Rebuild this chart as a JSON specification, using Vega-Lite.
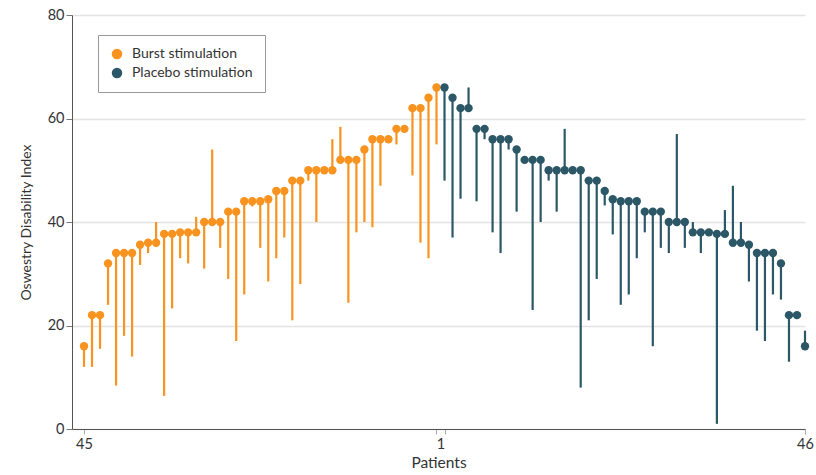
{
  "$schema": "https://vega.github.io/schema/vega-lite/v6.json",
  "width": 733,
  "height": 414,
  "autosize": {"type": "none"},
  "padding": {"left": 72, "top": 15, "right": 11, "bottom": 46},
  "background": "white",
  "config": {
    "font": "Lato",
    "view": {"stroke": null},
    "axis": {"labelFont": "Lato", "titleFont": "Lato", "labelFontSize": 14.5, "titleFontSize": 14.5, "labelColor": "#333", "titleColor": "#333", "titleFontWeight": "normal", "domainColor": "#555", "tickColor": "#777"}
  },
  "data": {"values": [
    {"idx":0,"group":"Burst stimulation","value":16,"end":12},
    {"idx":1,"group":"Burst stimulation","value":22,"end":12},
    {"idx":2,"group":"Burst stimulation","value":22,"end":15.5},
    {"idx":3,"group":"Burst stimulation","value":32,"end":24},
    {"idx":4,"group":"Burst stimulation","value":34,"end":8.4},
    {"idx":5,"group":"Burst stimulation","value":34,"end":18},
    {"idx":6,"group":"Burst stimulation","value":34,"end":14},
    {"idx":7,"group":"Burst stimulation","value":35.6,"end":31.7},
    {"idx":8,"group":"Burst stimulation","value":36,"end":34},
    {"idx":9,"group":"Burst stimulation","value":36,"end":40},
    {"idx":10,"group":"Burst stimulation","value":37.7,"end":6.4},
    {"idx":11,"group":"Burst stimulation","value":37.7,"end":23.3},
    {"idx":12,"group":"Burst stimulation","value":38,"end":33},
    {"idx":13,"group":"Burst stimulation","value":38,"end":32},
    {"idx":14,"group":"Burst stimulation","value":38,"end":41},
    {"idx":15,"group":"Burst stimulation","value":40,"end":31},
    {"idx":16,"group":"Burst stimulation","value":40,"end":54},
    {"idx":17,"group":"Burst stimulation","value":40,"end":35},
    {"idx":18,"group":"Burst stimulation","value":42,"end":29},
    {"idx":19,"group":"Burst stimulation","value":42,"end":17},
    {"idx":20,"group":"Burst stimulation","value":44,"end":26},
    {"idx":21,"group":"Burst stimulation","value":44,"end":43},
    {"idx":22,"group":"Burst stimulation","value":44,"end":35},
    {"idx":23,"group":"Burst stimulation","value":44.4,"end":28.5},
    {"idx":24,"group":"Burst stimulation","value":46,"end":33},
    {"idx":25,"group":"Burst stimulation","value":46,"end":37},
    {"idx":26,"group":"Burst stimulation","value":48,"end":21},
    {"idx":27,"group":"Burst stimulation","value":48,"end":28},
    {"idx":28,"group":"Burst stimulation","value":50,"end":48},
    {"idx":29,"group":"Burst stimulation","value":50,"end":40},
    {"idx":30,"group":"Burst stimulation","value":50,"end":50},
    {"idx":31,"group":"Burst stimulation","value":50,"end":56},
    {"idx":32,"group":"Burst stimulation","value":52,"end":58.4},
    {"idx":33,"group":"Burst stimulation","value":52,"end":24.4},
    {"idx":34,"group":"Burst stimulation","value":52,"end":38},
    {"idx":35,"group":"Burst stimulation","value":54,"end":40},
    {"idx":36,"group":"Burst stimulation","value":56,"end":39},
    {"idx":37,"group":"Burst stimulation","value":56,"end":47},
    {"idx":38,"group":"Burst stimulation","value":56,"end":56},
    {"idx":39,"group":"Burst stimulation","value":58,"end":55},
    {"idx":40,"group":"Burst stimulation","value":58,"end":58},
    {"idx":41,"group":"Burst stimulation","value":62,"end":49},
    {"idx":42,"group":"Burst stimulation","value":62,"end":36},
    {"idx":43,"group":"Burst stimulation","value":64,"end":33},
    {"idx":44,"group":"Burst stimulation","value":66,"end":55},
    {"idx":45,"group":"Placebo stimulation","value":66,"end":48},
    {"idx":46,"group":"Placebo stimulation","value":64,"end":37},
    {"idx":47,"group":"Placebo stimulation","value":62,"end":44.5},
    {"idx":48,"group":"Placebo stimulation","value":62,"end":66},
    {"idx":49,"group":"Placebo stimulation","value":58,"end":44},
    {"idx":50,"group":"Placebo stimulation","value":58,"end":56},
    {"idx":51,"group":"Placebo stimulation","value":56,"end":38},
    {"idx":52,"group":"Placebo stimulation","value":56,"end":34},
    {"idx":53,"group":"Placebo stimulation","value":56,"end":54},
    {"idx":54,"group":"Placebo stimulation","value":54,"end":42},
    {"idx":55,"group":"Placebo stimulation","value":52,"end":52},
    {"idx":56,"group":"Placebo stimulation","value":52,"end":23},
    {"idx":57,"group":"Placebo stimulation","value":52,"end":40},
    {"idx":58,"group":"Placebo stimulation","value":50,"end":48},
    {"idx":59,"group":"Placebo stimulation","value":50,"end":42},
    {"idx":60,"group":"Placebo stimulation","value":50,"end":58},
    {"idx":61,"group":"Placebo stimulation","value":50,"end":50},
    {"idx":62,"group":"Placebo stimulation","value":50,"end":8},
    {"idx":63,"group":"Placebo stimulation","value":48,"end":21},
    {"idx":64,"group":"Placebo stimulation","value":48,"end":29},
    {"idx":65,"group":"Placebo stimulation","value":46,"end":43.2},
    {"idx":66,"group":"Placebo stimulation","value":44.4,"end":37.6},
    {"idx":67,"group":"Placebo stimulation","value":44,"end":24},
    {"idx":68,"group":"Placebo stimulation","value":44,"end":26},
    {"idx":69,"group":"Placebo stimulation","value":44,"end":33},
    {"idx":70,"group":"Placebo stimulation","value":42,"end":38},
    {"idx":71,"group":"Placebo stimulation","value":42,"end":16},
    {"idx":72,"group":"Placebo stimulation","value":42,"end":35},
    {"idx":73,"group":"Placebo stimulation","value":40,"end":34},
    {"idx":74,"group":"Placebo stimulation","value":40,"end":57},
    {"idx":75,"group":"Placebo stimulation","value":40,"end":35},
    {"idx":76,"group":"Placebo stimulation","value":38,"end":40},
    {"idx":77,"group":"Placebo stimulation","value":38,"end":34},
    {"idx":78,"group":"Placebo stimulation","value":38,"end":38},
    {"idx":79,"group":"Placebo stimulation","value":37.7,"end":1},
    {"idx":80,"group":"Placebo stimulation","value":37.7,"end":42.3},
    {"idx":81,"group":"Placebo stimulation","value":36,"end":47},
    {"idx":82,"group":"Placebo stimulation","value":36,"end":40},
    {"idx":83,"group":"Placebo stimulation","value":35.6,"end":28.5},
    {"idx":84,"group":"Placebo stimulation","value":34,"end":19},
    {"idx":85,"group":"Placebo stimulation","value":34,"end":17},
    {"idx":86,"group":"Placebo stimulation","value":34,"end":26},
    {"idx":87,"group":"Placebo stimulation","value":32,"end":25},
    {"idx":88,"group":"Placebo stimulation","value":22,"end":13},
    {"idx":89,"group":"Placebo stimulation","value":22,"end":22},
    {"idx":90,"group":"Placebo stimulation","value":16,"end":19}
  ]},
  "encoding": {
    "x": {"field": "idx", "type": "quantitative",
      "scale": {"domain": [-1.5, 90], "nice": false, "zero": false},
      "axis": {"title": "Patients", "grid": false, "values": [0, 44, 45, 90],
        "labelExpr": "datum.value == 0 ? '45' : datum.value == 44 ? '1' : datum.value == 90 ? '46' : ''",
        "labelOffset": {"condition": {"test": "datum.value == 44", "value": 4}, "value": 0},
        "labelOverlap": false, "labelFlush": false, "tickSize": 5, "tickColor": "#aaa", "labelPadding": 3, "titlePadding": 5, "titleFontSize": 15.5}},
    "y": {"field": "value", "type": "quantitative",
      "scale": {"domain": [0, 80], "nice": false},
      "axis": {"title": "Oswestry Disability Index", "titleFontSize": 14, "values": [0, 20, 40, 60, 80], "grid": true, "gridColor": "#e3e3e3", "gridWidth": 1.5, "tickSize": 6, "labelPadding": 2, "titlePadding": 14}},
    "color": {"field": "group", "type": "nominal",
      "scale": {"domain": ["Burst stimulation", "Placebo stimulation"], "range": ["#F7931E", "#2C5766"]},
      "legend": {"title": null, "orient": "none", "legendX": 26, "legendY": 20, "direction": "vertical",
          "strokeColor": "#999", "fillColor": "white", "padding": 12, "labelFontSize": 14, "labelFont": "Lato", "labelColor": "#333",
          "symbolType": "circle", "symbolSize": 110, "symbolStrokeWidth": 0, "symbolOpacity": 1, "rowPadding": 5, "labelOffset": 8}}
  },
  "layer": [
    {"mark": {"type": "rule", "strokeWidth": 2.2},
     "encoding": {"y2": {"field": "end"}}},
    {"mark": {"type": "point", "filled": true, "opacity": 1, "size": 70},
     "encoding": {}}
  ]
}
